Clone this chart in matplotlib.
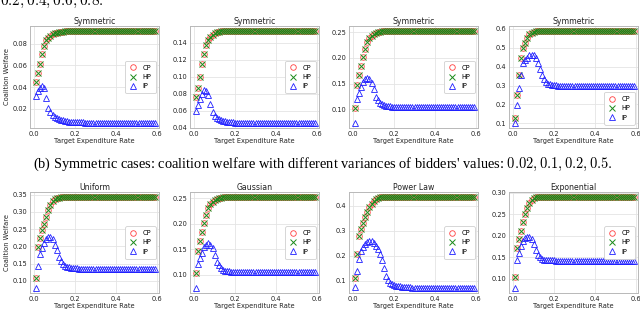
import matplotlib
matplotlib.use("Agg")
import matplotlib.pyplot as plt
from matplotlib.ticker import MultipleLocator

plt.rcParams['mathtext.fontset'] = 'cm'

# target expenditure rate 0.01 .. 0.59
rate = [i / 100 for i in range(1, 60)]

# ---- row (a): symmetric cases ----
cp_sym1 = [0.045, 0.053, 0.061, 0.070, 0.078, 0.083, 0.0855, 0.087, 0.0885, 0.0895,
           0.0902, 0.0907, 0.0910, 0.0912, 0.0914, 0.0915, 0.0916, 0.0917, 0.0917, 0.0918,
           0.0918, 0.0918, 0.0919, 0.0919, 0.0919, 0.0919, 0.0919, 0.0919, 0.0920, 0.0920,
           0.0920, 0.0920, 0.0920, 0.0920, 0.0920, 0.0920, 0.0920, 0.0920, 0.0920, 0.0920,
           0.0920, 0.0920, 0.0920, 0.0920, 0.0920, 0.0920, 0.0920, 0.0920, 0.0920, 0.0920,
           0.0920, 0.0920, 0.0920, 0.0920, 0.0920, 0.0920, 0.0920, 0.0920, 0.0920]
ip_sym1 = [0.032, 0.036, 0.039, 0.0405, 0.039, 0.030, 0.021, 0.017, 0.014, 0.012,
           0.0110, 0.0103, 0.0097, 0.0092, 0.0088, 0.0085, 0.0082, 0.0080, 0.0078, 0.0077,
           0.0076, 0.0075, 0.0074, 0.0073, 0.0072, 0.0072, 0.0071, 0.0071, 0.0070, 0.0070,
           0.0070, 0.0069, 0.0069, 0.0069, 0.0068, 0.0068, 0.0068, 0.0068, 0.0067, 0.0067,
           0.0067, 0.0067, 0.0067, 0.0066, 0.0066, 0.0066, 0.0066, 0.0066, 0.0066, 0.0066,
           0.0065, 0.0065, 0.0065, 0.0065, 0.0065, 0.0065, 0.0065, 0.0065, 0.0065]

cp_sym2 = [0.076, 0.087, 0.100, 0.115, 0.127, 0.137, 0.143, 0.147, 0.149, 0.151,
           0.1520, 0.1525, 0.1530, 0.1530, 0.1533, 0.1535, 0.1535, 0.1537, 0.1537, 0.1538,
           0.1538, 0.1538, 0.1539, 0.1539, 0.1539, 0.1539, 0.1540, 0.1540, 0.1540, 0.1540,
           0.1540, 0.1540, 0.1540, 0.1540, 0.1540, 0.1540, 0.1540, 0.1540, 0.1540, 0.1540,
           0.1540, 0.1540, 0.1540, 0.1540, 0.1540, 0.1540, 0.1540, 0.1540, 0.1540, 0.1540,
           0.1540, 0.1540, 0.1540, 0.1540, 0.1540, 0.1540, 0.1540, 0.1540, 0.1540]
ip_sym2 = [0.060, 0.067, 0.074, 0.080, 0.084, 0.083, 0.078, 0.068, 0.059, 0.054,
           0.052, 0.050, 0.049, 0.048, 0.0475, 0.0470, 0.0467, 0.0465, 0.0463, 0.0461,
           0.0460, 0.0459, 0.0458, 0.0457, 0.0457, 0.0456, 0.0456, 0.0455, 0.0455, 0.0455,
           0.0454, 0.0454, 0.0454, 0.0454, 0.0453, 0.0453, 0.0453, 0.0453, 0.0453, 0.0453,
           0.0452, 0.0452, 0.0452, 0.0452, 0.0452, 0.0452, 0.0452, 0.0452, 0.0452, 0.0452,
           0.0452, 0.0452, 0.0452, 0.0452, 0.0452, 0.0452, 0.0452, 0.0452, 0.0452]

cp_sym3 = [0.103, 0.147, 0.166, 0.184, 0.202, 0.217, 0.230, 0.238, 0.243, 0.247,
           0.2490, 0.2500, 0.2510, 0.2515, 0.2520, 0.2520, 0.2523, 0.2525, 0.2525, 0.2527,
           0.2527, 0.2528, 0.2528, 0.2529, 0.2529, 0.2530, 0.2530, 0.2530, 0.2530, 0.2530,
           0.2530, 0.2530, 0.2530, 0.2530, 0.2530, 0.2530, 0.2530, 0.2530, 0.2530, 0.2530,
           0.2530, 0.2530, 0.2530, 0.2530, 0.2530, 0.2530, 0.2530, 0.2530, 0.2530, 0.2530,
           0.2530, 0.2530, 0.2530, 0.2530, 0.2530, 0.2530, 0.2530, 0.2530, 0.2530]
ip_sym3 = [0.073, 0.120, 0.132, 0.143, 0.154, 0.159, 0.162, 0.159, 0.152, 0.139,
           0.124, 0.118, 0.113, 0.110, 0.108, 0.107, 0.1065, 0.1060, 0.1057, 0.1055,
           0.1053, 0.1052, 0.1051, 0.1050, 0.1050, 0.1049, 0.1049, 0.1048, 0.1048, 0.1048,
           0.1047, 0.1047, 0.1047, 0.1047, 0.1046, 0.1046, 0.1046, 0.1046, 0.1046, 0.1046,
           0.1045, 0.1045, 0.1045, 0.1045, 0.1045, 0.1045, 0.1045, 0.1045, 0.1045, 0.1045,
           0.1045, 0.1045, 0.1045, 0.1045, 0.1045, 0.1045, 0.1045, 0.1045, 0.1045]

cp_sym4 = [0.129, 0.250, 0.356, 0.448, 0.496, 0.523, 0.549, 0.570, 0.580, 0.585,
           0.587, 0.588, 0.589, 0.589, 0.589, 0.590, 0.590, 0.590, 0.590, 0.590,
           0.590, 0.590, 0.590, 0.590, 0.590, 0.590, 0.590, 0.590, 0.590, 0.590,
           0.590, 0.590, 0.590, 0.590, 0.590, 0.590, 0.590, 0.590, 0.590, 0.590,
           0.590, 0.590, 0.590, 0.590, 0.590, 0.590, 0.590, 0.590, 0.590, 0.590,
           0.590, 0.590, 0.590, 0.590, 0.590, 0.590, 0.590, 0.590, 0.590]
ip_sym4 = [0.100, 0.197, 0.285, 0.356, 0.417, 0.435, 0.448, 0.459, 0.463, 0.459,
           0.444, 0.417, 0.389, 0.356, 0.334, 0.316, 0.310, 0.306, 0.304, 0.302,
           0.301, 0.300, 0.300, 0.299, 0.299, 0.298, 0.298, 0.298, 0.297, 0.297,
           0.297, 0.297, 0.296, 0.296, 0.296, 0.296, 0.296, 0.296, 0.295, 0.295,
           0.295, 0.295, 0.295, 0.295, 0.295, 0.295, 0.295, 0.295, 0.295, 0.295,
           0.295, 0.295, 0.295, 0.295, 0.295, 0.295, 0.295, 0.295, 0.295]

# ---- row (b): distributions ----
cp_unif = [0.107, 0.197, 0.224, 0.246, 0.266, 0.286, 0.305, 0.320, 0.330, 0.336,
           0.339, 0.341, 0.342, 0.3425, 0.343, 0.343, 0.3432, 0.3433, 0.3434, 0.3435,
           0.3435, 0.3436, 0.3436, 0.3437, 0.3437, 0.3438, 0.3438, 0.3438, 0.3439, 0.3439,
           0.3439, 0.3439, 0.3440, 0.3440, 0.3440, 0.3440, 0.3440, 0.3440, 0.3440, 0.3440,
           0.3440, 0.3440, 0.3440, 0.3440, 0.3440, 0.3440, 0.3440, 0.3440, 0.3440, 0.3440,
           0.3440, 0.3440, 0.3440, 0.3440, 0.3440, 0.3440, 0.3440, 0.3440, 0.3440]
ip_unif = [0.078, 0.143, 0.179, 0.195, 0.210, 0.220, 0.226, 0.227, 0.220, 0.205,
           0.189, 0.169, 0.157, 0.149, 0.144, 0.141, 0.139, 0.138, 0.137, 0.1365,
           0.1360, 0.1356, 0.1353, 0.1350, 0.1348, 0.1346, 0.1344, 0.1342, 0.1341, 0.1340,
           0.1339, 0.1338, 0.1337, 0.1336, 0.1335, 0.1335, 0.1334, 0.1334, 0.1333, 0.1333,
           0.1333, 0.1332, 0.1332, 0.1332, 0.1331, 0.1331, 0.1331, 0.1331, 0.1330, 0.1330,
           0.1330, 0.1330, 0.1330, 0.1330, 0.1330, 0.1330, 0.1330, 0.1330, 0.1330]

cp_gauss = [0.103, 0.147, 0.166, 0.184, 0.202, 0.217, 0.230, 0.238, 0.243, 0.247,
            0.2490, 0.2500, 0.2510, 0.2515, 0.2520, 0.2520, 0.2523, 0.2525, 0.2525, 0.2527,
            0.2527, 0.2528, 0.2528, 0.2529, 0.2529, 0.2530, 0.2530, 0.2530, 0.2530, 0.2530,
            0.2530, 0.2530, 0.2530, 0.2530, 0.2530, 0.2530, 0.2530, 0.2530, 0.2530, 0.2530,
            0.2530, 0.2530, 0.2530, 0.2530, 0.2530, 0.2530, 0.2530, 0.2530, 0.2530, 0.2530,
            0.2530, 0.2530, 0.2530, 0.2530, 0.2530, 0.2530, 0.2530, 0.2530, 0.2530]
ip_gauss = [0.073, 0.120, 0.132, 0.143, 0.154, 0.159, 0.162, 0.159, 0.152, 0.139,
            0.124, 0.118, 0.113, 0.110, 0.108, 0.107, 0.1065, 0.1060, 0.1057, 0.1055,
            0.1053, 0.1052, 0.1051, 0.1050, 0.1050, 0.1049, 0.1049, 0.1048, 0.1048, 0.1048,
            0.1047, 0.1047, 0.1047, 0.1047, 0.1046, 0.1046, 0.1046, 0.1046, 0.1046, 0.1046,
            0.1045, 0.1045, 0.1045, 0.1045, 0.1045, 0.1045, 0.1045, 0.1045, 0.1045, 0.1045,
            0.1045, 0.1045, 0.1045, 0.1045, 0.1045, 0.1045, 0.1045, 0.1045, 0.1045]

cp_power = [0.113, 0.209, 0.280, 0.307, 0.333, 0.356, 0.377, 0.396, 0.409, 0.420,
            0.427, 0.432, 0.435, 0.436, 0.4365, 0.437, 0.437, 0.437, 0.437, 0.437,
            0.437, 0.437, 0.437, 0.437, 0.437, 0.437, 0.437, 0.437, 0.437, 0.437,
            0.437, 0.437, 0.437, 0.437, 0.437, 0.437, 0.437, 0.437, 0.437, 0.437,
            0.437, 0.437, 0.437, 0.437, 0.437, 0.437, 0.437, 0.437, 0.437, 0.437,
            0.437, 0.437, 0.437, 0.437, 0.437, 0.437, 0.437, 0.437, 0.437]
ip_power = [0.076, 0.140, 0.189, 0.220, 0.237, 0.249, 0.256, 0.260, 0.260, 0.253,
            0.240, 0.227, 0.209, 0.183, 0.153, 0.120, 0.103, 0.093, 0.087, 0.083,
            0.081, 0.079, 0.078, 0.077, 0.076, 0.075, 0.0745, 0.074, 0.0735, 0.073,
            0.0727, 0.0724, 0.0721, 0.0718, 0.0716, 0.0714, 0.0712, 0.0710, 0.0709, 0.0708,
            0.0707, 0.0706, 0.0705, 0.0704, 0.0703, 0.0703, 0.0702, 0.0702, 0.0701, 0.0701,
            0.0700, 0.0700, 0.0700, 0.0700, 0.0700, 0.0700, 0.0700, 0.0700, 0.0700]

cp_expo = [0.105, 0.172, 0.193, 0.212, 0.233, 0.250, 0.264, 0.275, 0.283, 0.287,
           0.289, 0.2895, 0.290, 0.290, 0.2902, 0.2903, 0.2904, 0.2905, 0.2905, 0.2906,
           0.2906, 0.2907, 0.2907, 0.2907, 0.2908, 0.2908, 0.2908, 0.2908, 0.2909, 0.2909,
           0.2909, 0.2909, 0.2909, 0.2910, 0.2910, 0.2910, 0.2910, 0.2910, 0.2910, 0.2910,
           0.2910, 0.2910, 0.2910, 0.2910, 0.2910, 0.2910, 0.2910, 0.2910, 0.2910, 0.2910,
           0.2910, 0.2910, 0.2910, 0.2910, 0.2910, 0.2910, 0.2910, 0.2910, 0.2910]
ip_expo = [0.078, 0.143, 0.160, 0.176, 0.189, 0.195, 0.198, 0.198, 0.193, 0.180,
           0.168, 0.156, 0.150, 0.147, 0.145, 0.144, 0.1435, 0.1430, 0.1430, 0.1428,
           0.1427, 0.1426, 0.1425, 0.1424, 0.1424, 0.1423, 0.1423, 0.1422, 0.1422, 0.1422,
           0.1421, 0.1421, 0.1421, 0.1421, 0.1420, 0.1420, 0.1420, 0.1420, 0.1420, 0.1420,
           0.1420, 0.1420, 0.1420, 0.1420, 0.1420, 0.1420, 0.1420, 0.1420, 0.1420, 0.1420,
           0.1420, 0.1420, 0.1420, 0.1420, 0.1420, 0.1420, 0.1420, 0.1420, 0.1420]

# HP coincides with CP in every panel
panels = [
    ("Symmetric", cp_sym1, list(cp_sym1), ip_sym1, 0.02, "center right"),
    ("Symmetric", cp_sym2, list(cp_sym2), ip_sym2, 0.02, "center right"),
    ("Symmetric", cp_sym3, list(cp_sym3), ip_sym3, 0.05, "center right"),
    ("Symmetric", cp_sym4, list(cp_sym4), ip_sym4, 0.1, "lower right"),
    ("Uniform", cp_unif, list(cp_unif), ip_unif, 0.05, "center right"),
    ("Gaussian", cp_gauss, list(cp_gauss), ip_gauss, 0.05, "center right"),
    ("Power Law", cp_power, list(cp_power), ip_power, 0.1, "center right"),
    ("Exponential", cp_expo, list(cp_expo), ip_expo, 0.05, "center right"),
]

W, H = 640, 309
fig = plt.figure(figsize=(W / 100, H / 100), dpi=100)

lefts = [30, 190, 349, 509]
width = 129
rows = [(26, 128), (192, 293)]

for k, (title, cp, hp, ip, step, loc) in enumerate(panels):
    r, c = divmod(k, 4)
    top, bot = rows[r]
    ax = fig.add_axes([lefts[c] / W, 1 - bot / H, width / W, (bot - top) / H])
    ax.plot(rate, cp, ls='none', marker='o', ms=4, mfc='none', mec='#ff4040',
            mew=0.6, label='CP')
    ax.plot(rate, hp, ls='none', marker='x', ms=4, color='#1a8a1a', mew=0.7,
            label='HP')
    ax.plot(rate, ip, ls='none', marker='^', ms=4.2, mfc='none', mec='#2020ff',
            mew=0.6, label='IP')
    ax.set_xlim(-0.02, 0.61)
    ax.xaxis.set_major_locator(MultipleLocator(0.2))
    ax.yaxis.set_major_locator(MultipleLocator(step))
    ax.grid(True, color='#e4e4e4', lw=0.6)
    ax.set_axisbelow(True)
    for s in ax.spines.values():
        s.set_color('#b8b8b8')
        s.set_linewidth(0.7)
    ax.tick_params(length=0, pad=2, labelsize=4.8, colors='#222222')
    ax.set_title(title, fontsize=5.6, pad=1.5, color='#222222')
    ax.set_xlabel('Target Expenditure Rate', fontsize=4.8, labelpad=0.8, color='#222222')
    if c == 0:
        ax.set_ylabel('Coalition Welfare', fontsize=4.8, labelpad=2, color='#222222')
    leg = ax.legend(loc=loc, fontsize=4.8, handlelength=1.0, handletextpad=1.0,
                    borderpad=0.6, labelspacing=0.5, framealpha=1.0)
    leg.get_frame().set_edgecolor('#d0d0d0')
    leg.get_frame().set_linewidth(0.6)

fig.text(0.0, 1 - 5 / H, r"$0.2, 0.4, 0.6, 0.8.$", fontsize=11, ha='left',
         va='baseline', family='Liberation Serif')
fig.text(323 / W, 1 - 168 / H,
         r"(b) Symmetric cases: coalition welfare with different variances of bidders' values: $0.02, 0.1, 0.2, 0.5.$",
         fontsize=10.4, ha='center', va='baseline', family='Liberation Serif')

fig.savefig('out.png', dpi=100)
